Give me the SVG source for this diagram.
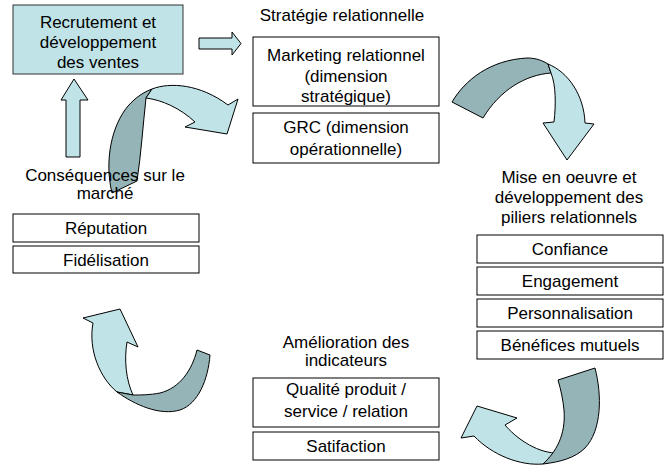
<svg xmlns="http://www.w3.org/2000/svg" width="667" height="468" viewBox="0 0 667 468">
<style>
text{font-family:"Liberation Sans",Arial,sans-serif;font-size:17px;fill:#000;text-anchor:middle}
.box{fill:#fff;stroke:#000;stroke-width:1}
.hl{fill:#bfe3e6;stroke:#333;stroke-width:1}
.lt{fill:#bfe3e6;stroke:#000;stroke-width:1;stroke-linejoin:round}
.dk{fill:#94b4b7;stroke:#000;stroke-width:1;stroke-linejoin:round}
</style>
<rect width="667" height="468" fill="#fff"/>
<g id="connectors">
<polygon class="lt" points="199,38 232,38 232,32 241,43.5 232,55 232,49 199,49"/>
<polygon class="lt" points="66,157 66,100 61,100 74,79 88,100 80,100 80,157"/>
<path class="dk" d="M112,193 C104,160 112,125 128,106 C136,97 144,92 152,89 L146,98 C143,125 141,155 137,181 Z"/>
<path class="lt" d="M152,89 C170,82 200,84 228,105 L238,99 L227,134 L185,127 L195,122 C180,108 162,100 146,98 Z"/>
<path class="dk" d="M452,102 C465,80 490,60 527,58 C537,58 543,61 548,64 L551,73 C525,75 500,90 483,118 Z"/>
<path class="lt" d="M548,64 C568,72 584,95 585,123 L594,124 L567,160 L543,123 L554,122 C556,105 556,85 551,73 Z"/>
<path class="lt" d="M93,323 L83,318 L120,309 L138,347 L127,342 C124,360 126,380 133,395 L117,392 C100,378 88,350 93,323 Z"/>
<path class="dk" d="M117,392 C135,405 160,416 180,410 C198,404 208,380 210,355 L197,350 C192,370 180,388 160,393 C150,395 140,395 133,395 Z"/>
<path class="lt" d="M543,464 C520,466 492,455 474,436 L461,438 L477,406 L517,418 L505,425 C515,437 535,452 555,453 Z"/>
<path class="dk" d="M558,380 L595,368 C602,395 602,430 585,448 C575,458 560,462 543,464 C556,452 566,435 564,410 C563,400 561,390 558,380 Z"/>
</g>
<g id="recrutement">
<rect class="hl" x="13" y="5" width="170" height="69"/>
<text x="98" y="28">Recrutement et</text>
<text x="98" y="48">développement</text>
<text x="98" y="68">des ventes</text>
</g>
<g id="strategie">
<text x="342" y="21">Stratégie relationnelle</text>
</g>
<g id="marketing">
<rect class="box" x="253" y="37" width="186" height="69"/>
<text x="346" y="61">Marketing relationnel</text>
<text x="346" y="82">(dimension</text>
<text x="346" y="102">stratégique)</text>
</g>
<g id="grc">
<rect class="box" x="253" y="113" width="186" height="50"/>
<text x="346" y="133">GRC (dimension</text>
<text x="346" y="155">opérationnelle)</text>
</g>
<g id="mise-en-oeuvre">
<text x="569" y="183">Mise en oeuvre et</text>
<text x="569" y="203">développement des</text>
<text x="569" y="223">piliers relationnels</text>
</g>
<g id="confiance"><rect class="box" x="477" y="235" width="186" height="28"/><text x="570" y="255">Confiance</text></g>
<g id="engagement"><rect class="box" x="477" y="267" width="186" height="28"/><text x="570" y="287">Engagement</text></g>
<g id="personnalisation"><rect class="box" x="477" y="299" width="186" height="28"/><text x="570" y="319">Personnalisation</text></g>
<g id="benefices"><rect class="box" x="477" y="331" width="186" height="28"/><text x="570" y="351">Bénéfices mutuels</text></g>
<g id="amelioration">
<text x="346" y="348">Amélioration des</text>
<text x="346" y="366">indicateurs</text>
</g>
<g id="qualite">
<rect class="box" x="253" y="378" width="186" height="49"/>
<text x="346" y="395">Qualité produit /</text>
<text x="346" y="417">service / relation</text>
</g>
<g id="satisfaction"><rect class="box" x="253" y="432" width="186" height="28"/><text x="346" y="452">Satifaction</text></g>
<g id="consequences">
<text x="105" y="181">Conséquences sur le</text>
<text x="105" y="199">marché</text>
</g>
<g id="reputation"><rect class="box" x="13" y="214" width="186" height="28"/><text x="106" y="234">Réputation</text></g>
<g id="fidelisation"><rect class="box" x="13" y="246" width="186" height="27"/><text x="106" y="266">Fidélisation</text></g>
</svg>
